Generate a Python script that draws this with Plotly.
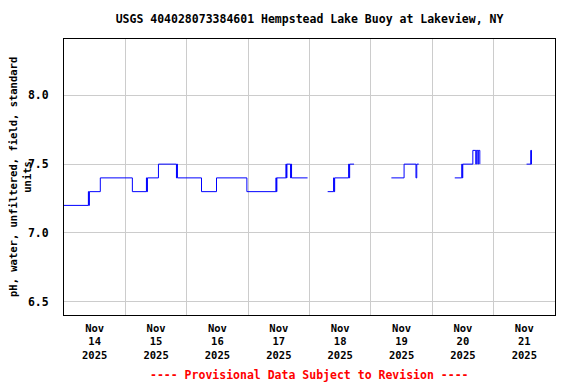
import plotly.graph_objects as go

# pH readings at change points (None = data gap)
times = [
    "2025-11-14 00:00", "2025-11-14 09:32", "2025-11-14 09:43", "2025-11-14 09:55",
    "2025-11-14 14:12", "2025-11-15 02:44", "2025-11-15 08:14", "2025-11-15 08:25",
    "2025-11-15 08:37", "2025-11-15 12:56", "2025-11-15 19:58", "2025-11-15 20:10",
    "2025-11-15 20:21", "2025-11-16 05:46", "2025-11-16 11:38", "2025-11-16 23:31",
    "2025-11-17 10:52", "2025-11-17 11:04", "2025-11-17 11:15", "2025-11-17 14:47",
    "2025-11-17 14:59", "2025-11-17 15:11", "2025-11-17 16:36", "2025-11-17 16:48",
    "2025-11-17 16:59", "2025-11-17 23:15", "2025-11-18 03:00",
    "2025-11-18 07:06", "2025-11-18 09:26", "2025-11-18 09:37", "2025-11-18 09:50",
    "2025-11-18 15:19", "2025-11-18 15:30", "2025-11-18 15:42", "2025-11-18 17:25",
    "2025-11-19 00:00",
    "2025-11-19 08:01", "2025-11-19 12:59", "2025-11-19 17:38", "2025-11-19 17:57",
    "2025-11-19 18:43", "2025-11-20 00:00",
    "2025-11-20 08:48", "2025-11-20 11:33", "2025-11-20 11:44", "2025-11-20 11:56",
    "2025-11-20 15:52", "2025-11-20 17:02", "2025-11-20 17:14", "2025-11-20 17:50",
    "2025-11-20 18:01", "2025-11-20 18:36", "2025-11-21 00:00",
    "2025-11-21 12:53", "2025-11-21 14:34", "2025-11-21 14:40", "2025-11-21 14:46",
    "2025-11-21 14:53",
]
ph = [
    7.2, 7.3, 7.2, 7.3,
    7.4, 7.3, 7.4, 7.3,
    7.4, 7.5, 7.4, 7.5,
    7.4, 7.3, 7.4, 7.3,
    7.4, 7.3, 7.4, 7.5,
    7.4, 7.5, 7.4, 7.5,
    7.4, 7.4, None,
    7.3, 7.4, 7.3, 7.4,
    7.5, 7.4, 7.5, 7.5,
    None,
    7.4, 7.5, 7.4, 7.5,
    7.5, None,
    7.4, 7.5, 7.4, 7.5,
    7.6, 7.5, 7.6, 7.5,
    7.6, 7.5, None,
    7.5, 7.6, 7.5, 7.6,
    7.6,
]

day_starts = ["2025-11-14", "2025-11-15", "2025-11-16", "2025-11-17",
              "2025-11-18", "2025-11-19", "2025-11-20", "2025-11-21", "2025-11-22"]
label_pos = ["2025-11-14 12:00", "2025-11-15 12:00", "2025-11-16 12:00", "2025-11-17 12:00",
             "2025-11-18 12:00", "2025-11-19 12:00", "2025-11-20 12:00", "2025-11-21 12:00"]
label_text = ["Nov<br>14<br>2025", "Nov<br>15<br>2025", "Nov<br>16<br>2025", "Nov<br>17<br>2025",
              "Nov<br>18<br>2025", "Nov<br>19<br>2025", "Nov<br>20<br>2025", "Nov<br>21<br>2025"]
y_ticks = [6.5, 7.0, 7.5, 8.0]

FONT = "DejaVu Sans Mono"
fig = go.Figure()
fig.add_trace(go.Scatter(x=times, y=ph, mode="lines", line_shape="hv",
                         line=dict(color="#0000ff", width=1), connectgaps=False,
                         hoverinfo="skip"))

# page body has an 8px default margin, so the figure is sized/offset to compensate
fig.update_layout(
    width=568, height=376,
    margin=dict(l=56, r=21, t=31, b=69),
    paper_bgcolor="white", plot_bgcolor="white",
    showlegend=False,
    font=dict(family=FONT, size=11.5, color="black", weight="bold"),
    title=dict(text="USGS 404028073384601 Hempstead Lake Buoy at Lakeview, NY",
               x=0.5, xref="paper", xanchor="center", y=1 - 11 / 376, yanchor="middle",
               font=dict(family=FONT, size=11.5, color="black", weight="bold")),
    xaxis=dict(
        type="date", range=[day_starts[0], day_starts[-1]], automargin=False,
        tickmode="array", tickvals=label_pos, ticktext=label_text,
        showgrid=False, ticks="", ticklabelstandoff=3,
        showline=True, linecolor="black", linewidth=1, mirror=True,
        zeroline=False,
        minor=dict(tickmode="array", tickvals=day_starts, showgrid=True,
                   gridcolor="#cccccc", gridwidth=1, ticks=""),
        tickfont=dict(family=FONT, size=10.5, color="black", weight="bold"),
    ),
    yaxis=dict(
        range=[6.403, 8.41], tickmode="array", tickvals=y_ticks, automargin=False,
        tickformat=".1f", showgrid=True, gridcolor="#cccccc", gridwidth=1,
        ticks="", ticklabelstandoff=12,
        showline=True, linecolor="black", linewidth=1, mirror=True,
        zeroline=False,
        tickfont=dict(family=FONT, size=11.5, color="black", weight="bold"),
    ),
    annotations=[
        dict(text="---- Provisional Data Subject to Revision ----",
             xref="paper", yref="paper", x=0.5, y=-60 / 276, yanchor="middle",
             showarrow=False,
             font=dict(family=FONT, size=11.5, color="#ff0000", weight="bold")),
        dict(text="pH, water, unfiltered, field, standard<br>units",
             xref="paper", yref="paper", x=-44 / 491, y=0.5,
             xanchor="center", yanchor="middle", textangle=-90, showarrow=False,
             font=dict(family=FONT, size=10.5, color="black", weight="bold")),
    ],
)

fig.write_html("out.html")
